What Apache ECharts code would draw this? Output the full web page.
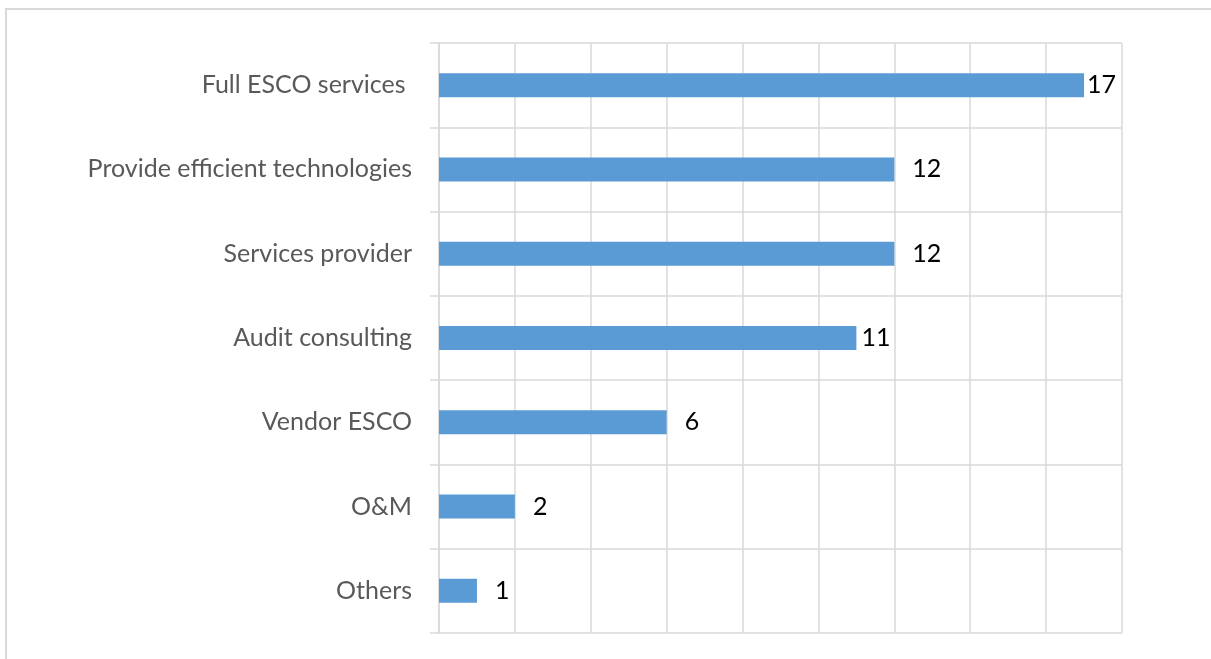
<!DOCTYPE html>
<html>
<head>
<meta charset="utf-8">
<script src="https://cdn.jsdelivr.net/npm/echarts@6/dist/echarts.min.js"></script>
<style>
html,body{margin:0;padding:0;background:#fff;}
#chart{width:1211px;height:659px;}
</style>
</head>
<body>
<div id="chart"></div>
<script>
const categories = ["Full ESCO services ", "Provide efficient technologies", "Services provider", "Audit consulting", "Vendor ESCO", "O&M", "Others"];
const values = [17, 12, 12, 11, 6, 2, 1];
const labelGaps = [3, 18, 18, 5, 18, 18, 18];

const chart = echarts.init(document.getElementById('chart'), null, {renderer: 'canvas'});
const fontFam = 'Lato, "Open Sans", sans-serif';
chart.setOption({
  animation: false,
  backgroundColor: '#fff',
  graphic: [{
    type: 'rect',
    shape: {x: 6, y: 9, width: 1220, height: 670},
    style: {fill: 'none', stroke: '#d9d9d9', lineWidth: 2},
    silent: true
  }],
  grid: {left: 439, top: 43, right: 89, bottom: 26, containLabel: false},
  xAxis: {
    type: 'value', min: 0, max: 18, interval: 2,
    axisLabel: {show: false}, axisLine: {show: false}, axisTick: {show: false},
    splitLine: {show: true, lineStyle: {color: '#d9d9d9', width: 1.5}}
  },
  yAxis: {
    type: 'category', data: categories, inverse: true,
    axisLine: {show: true, lineStyle: {color: '#d9d9d9', width: 1.5}},
    axisTick: {show: true, length: 9, lineStyle: {color: '#d9d9d9', width: 1.5}},
    splitLine: {show: true, lineStyle: {color: '#d9d9d9', width: 1.5}},
    axisLabel: {color: '#595959', fontSize: 25, fontFamily: fontFam, margin: 27}
  },
  series: [{
    type: 'bar', barWidth: 24,
    itemStyle: {color: '#5b9bd5'},
    data: values.map((v, i) => ({
      value: v,
      label: {show: true, position: 'right', distance: labelGaps[i], color: '#000', fontSize: 25, fontFamily: fontFam}
    }))
  }]
});
</script>
</body>
</html>
